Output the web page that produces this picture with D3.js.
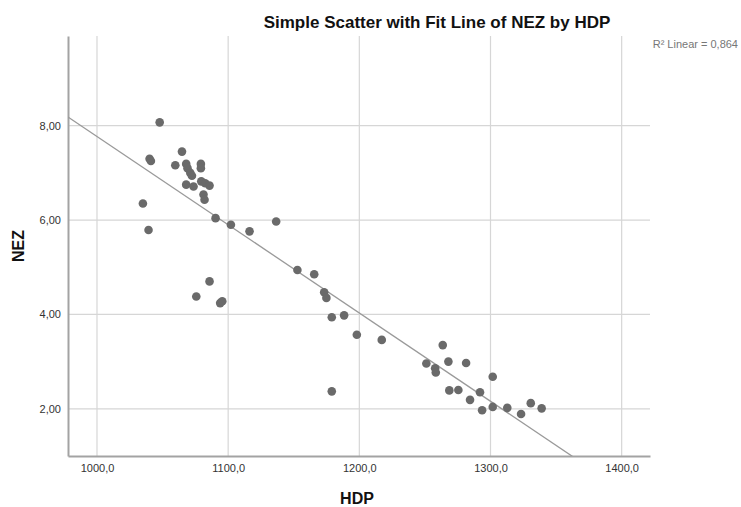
<!DOCTYPE html>
<html>
<head>
<meta charset="utf-8">
<script src="https://cdn.jsdelivr.net/npm/d3@7"></script>
<style>
body { margin: 0; background: #fff; }
text { font-family: "Liberation Sans", Arial, sans-serif; }
</style>
</head>
<body>
<script>
// HDP / NEZ values
var hdp = [1047.8, 1040.1, 1041.1, 1064.8, 1059.7, 1068.0, 1069.0, 1071.1, 1072.4, 1079.2,
           1079.2, 1068.0, 1073.6, 1079.5, 1082.5, 1085.8, 1081.2, 1082.0, 1035.0, 1039.3,
           1090.4, 1102.1, 1116.3, 1085.8, 1075.7, 1093.9, 1095.5, 1136.6, 1152.8, 1165.6,
           1173.2, 1174.9, 1179.0, 1188.4, 1198.1, 1217.1, 1179.0, 1263.6, 1251.1, 1257.8,
           1258.3, 1267.9, 1281.4, 1301.7, 1268.6, 1275.5, 1292.0, 1284.4, 1293.6, 1301.7,
           1312.8, 1323.3, 1330.7, 1339.0];
var nez = [8.07, 7.30, 7.25, 7.45, 7.16, 7.19, 7.10, 7.00, 6.94, 7.19,
           7.10, 6.75, 6.71, 6.82, 6.78, 6.73, 6.54, 6.43, 6.35, 5.79,
           6.04, 5.90, 5.76, 4.70, 4.38, 4.24, 4.28, 5.97, 4.94, 4.85,
           4.47, 4.35, 3.94, 3.98, 3.57, 3.46, 2.37, 3.35, 2.96, 2.86,
           2.77, 3.00, 2.97, 2.68, 2.39, 2.40, 2.35, 2.19, 1.97, 2.04,
           2.02, 1.89, 2.12, 2.01];
var xTicks = [1000, 1100, 1200, 1300, 1400];
var yTicks = [2, 4, 6, 8];
// fit line
var fitIntercept = 26.47, fitSlope = -0.0187;
var r2 = 0.864;

var width = 741, height = 507;
var plotLeft = 68, plotRight = 650, plotTop = 36, plotBottom = 456;

var svg = d3.select("body").append("svg")
    .attr("width", width)
    .attr("height", height);

var x = d3.scaleLinear().domain([977.9, 1421.6]).range([plotLeft, plotRight]);
var y = d3.scaleLinear().domain([1.0, 9.9]).range([plotBottom, plotTop]);

var comma = function(f) { return function(v) { return d3.format(f)(v).replace(".", ","); }; };

// gridlines
svg.append("g").selectAll("line").data(xTicks).enter().append("line")
    .attr("x1", d => x(d)).attr("x2", d => x(d))
    .attr("y1", plotTop).attr("y2", plotBottom)
    .attr("stroke", "#d6d6d6").attr("stroke-width", 1.2);
svg.append("g").selectAll("line").data(yTicks).enter().append("line")
    .attr("x1", plotLeft).attr("x2", plotRight)
    .attr("y1", d => y(d)).attr("y2", d => y(d))
    .attr("stroke", "#d6d6d6").attr("stroke-width", 1.2);

// axes
var xAxis = svg.append("g")
    .attr("transform", "translate(0," + plotBottom + ")")
    .call(d3.axisBottom(x).tickValues(xTicks).tickSize(0).tickPadding(8).tickFormat(comma(".1f")));
var yAxis = svg.append("g")
    .attr("transform", "translate(" + plotLeft + ",0)")
    .call(d3.axisLeft(y).tickValues(yTicks).tickSize(0).tickPadding(7).tickFormat(comma(".2f")));
[xAxis, yAxis].forEach(function(a) {
    a.select(".domain").attr("stroke", "#a3a3a3").attr("stroke-width", 2);
    a.selectAll("text").attr("font-size", 11).attr("fill", "#333")
        .attr("font-family", "Liberation Sans, Arial, sans-serif");
});

// fit line, clipped to the plot
svg.append("clipPath").attr("id", "plot").append("rect")
    .attr("x", plotLeft).attr("y", plotTop)
    .attr("width", plotRight - plotLeft).attr("height", plotBottom - plotTop);
var xd = x.domain();
svg.append("line")
    .attr("clip-path", "url(#plot)")
    .attr("x1", x(xd[0])).attr("y1", y(fitIntercept + fitSlope * xd[0]))
    .attr("x2", x(xd[1])).attr("y2", y(fitIntercept + fitSlope * xd[1]))
    .attr("stroke", "#9a9a9a").attr("stroke-width", 1.3);

// points
svg.append("g").selectAll("circle").data(hdp).enter().append("circle")
    .attr("cx", d => x(d))
    .attr("cy", (d, i) => y(nez[i]))
    .attr("r", 4.3)
    .attr("fill", "#6a6a6a");

// titles
svg.append("text").attr("x", 437).attr("y", 28)
    .attr("text-anchor", "middle").attr("font-size", 17).attr("fill", "#111")
    .attr("font-weight", "bold")
    .text("Simple Scatter with Fit Line of NEZ by HDP");
svg.append("text").attr("x", 738).attr("y", 48)
    .attr("text-anchor", "end").attr("font-size", 11).attr("fill", "#777")
    .text("R² Linear = " + comma(".3f")(r2));
svg.append("text").attr("x", 357).attr("y", 504)
    .attr("text-anchor", "middle").attr("font-size", 16).attr("fill", "#111")
    .attr("font-weight", "bold")
    .text("HDP");
svg.append("text")
    .attr("transform", "translate(24," + ((plotTop + plotBottom) / 2) + ") rotate(-90)")
    .attr("text-anchor", "middle").attr("font-size", 16).attr("fill", "#111")
    .attr("font-weight", "bold")
    .text("NEZ");
</script>
</body>
</html>
